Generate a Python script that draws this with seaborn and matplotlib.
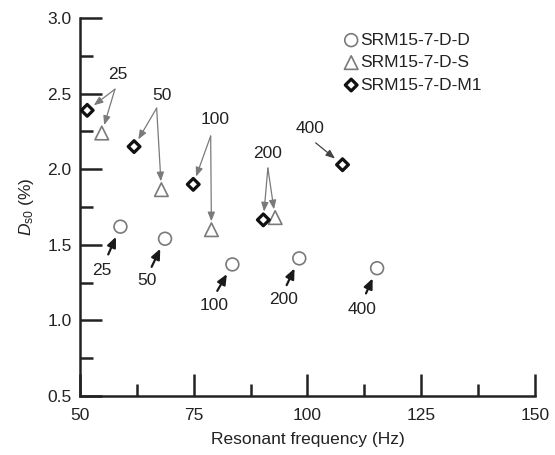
import numpy as np
import pandas as pd
import matplotlib
matplotlib.use("Agg")
import matplotlib.pyplot as plt
from matplotlib.ticker import MultipleLocator, FormatStrFormatter
import seaborn as sns

# Resonant frequency (Hz) and D_s0 (%) for each specimen series
labels_dd = [25, 50, 100, 200, 400]
freq_dd = [58.9, 68.7, 83.5, 98.2, 115.3]
ds0_dd = [1.62, 1.54, 1.37, 1.41, 1.345]

labels_ds = [25, 50, 100, 200]
freq_ds = [54.8, 67.9, 78.9, 92.9]
ds0_ds = [2.24, 1.865, 1.60, 1.68]

labels_m1 = [25, 50, 100, 200, 400]
freq_m1 = [51.6, 61.9, 74.9, 90.3, 107.7]
ds0_m1 = [2.39, 2.15, 1.90, 1.665, 2.03]

series_names = ["SRM15-7-D-D", "SRM15-7-D-S", "SRM15-7-D-M1"]

sns.set_theme(style="white")
plt.rcParams["font.family"] = ["Liberation Sans", "DejaVu Sans"]
plt.rcParams["mathtext.fontset"] = "custom"
plt.rcParams["mathtext.rm"] = "Liberation Sans"
plt.rcParams["mathtext.it"] = "Liberation Sans:italic"

ink = "#222222"

df = pd.concat([
    pd.DataFrame({"freq": freq_dd, "ds0": ds0_dd, "label": labels_dd, "series": series_names[0]}),
    pd.DataFrame({"freq": freq_ds, "ds0": ds0_ds, "label": labels_ds, "series": series_names[1]}),
    pd.DataFrame({"freq": freq_m1, "ds0": ds0_m1, "label": labels_m1, "series": series_names[2]}),
], ignore_index=True)

fig = plt.figure(figsize=(5.55, 4.55), dpi=100)
ax = fig.add_axes([0.144, 0.130, 0.820, 0.830])

styles = {
    series_names[0]: dict(marker="o", s=85, edgecolor="#7a7a7a", linewidth=1.2),
    series_names[1]: dict(marker="^", s=95, edgecolor="#7a7a7a", linewidth=1.2),
    series_names[2]: dict(marker="D", s=36, edgecolor="#111111", linewidth=2.3),
}
for name in series_names:
    sub = df[df["series"] == name]
    st = styles[name]
    sns.scatterplot(data=sub, x="freq", y="ds0", ax=ax, marker=st["marker"], s=st["s"],
                    facecolor="none", edgecolor=st["edgecolor"], linewidth=st["linewidth"],
                    label=name, zorder=3)

ax.set_xlim(50, 150)
ax.set_ylim(0.5, 3.0)
ax.xaxis.set_major_locator(MultipleLocator(25))
ax.xaxis.set_minor_locator(MultipleLocator(12.5))
ax.yaxis.set_major_locator(MultipleLocator(0.5))
ax.yaxis.set_minor_locator(MultipleLocator(0.25))
ax.xaxis.set_major_formatter(FormatStrFormatter("%d"))
ax.yaxis.set_major_formatter(FormatStrFormatter("%.1f"))

for side in ["top", "right"]:
    ax.spines[side].set_visible(False)
for side in ["left", "bottom"]:
    ax.spines[side].set_linewidth(1.8)
    ax.spines[side].set_color(ink)

ax.tick_params(which="both", direction="in", color=ink, width=1.8, labelsize=12.5,
               labelcolor=ink, bottom=True, left=True, top=False, right=False)
ax.tick_params(which="major", length=16)
ax.tick_params(which="minor", length=9)
ax.tick_params(axis="y", which="major", pad=6)
ax.tick_params(axis="x", which="major", pad=9)

ax.set_xlabel("Resonant frequency (Hz)", fontsize=12.5, color=ink, labelpad=6)
ax.set_ylabel(r"$D_{\mathrm{s0}}$ (%)", fontsize=12.5, color=ink, labelpad=8)

# Upper labels: thin grey arrows to the M1 and D-S points of the same frequency
upper = {
    25: ((58.35, 2.63), (57.7, 2.53)),
    50: ((67.96, 2.485), (66.86, 2.405)),
    100: ((79.67, 2.33), (78.73, 2.22)),
    200: ((91.3, 2.107), (91.3, 2.008)),
}
pts_m1 = dict(zip(labels_m1, zip(freq_m1, ds0_m1)))
pts_ds = dict(zip(labels_ds, zip(freq_ds, ds0_ds)))
pts_dd = dict(zip(labels_dd, zip(freq_dd, ds0_dd)))

grey_arrow = dict(arrowstyle="-|>,head_length=0.45,head_width=0.18", color="#7a7a7a",
                  lw=0.9, shrinkA=0, shrinkB=6)
for lab, (txt, tail) in upper.items():
    ax.text(*txt, str(lab), ha="center", va="center", fontsize=12.5, color=ink)
    for target in (pts_m1[lab], pts_ds[lab]):
        ax.annotate("", xy=target, xytext=tail, arrowprops=grey_arrow)

ax.text(100.5, 2.27, "400", ha="center", va="center", fontsize=12.5, color=ink)
ax.annotate("", xy=pts_m1[400], xytext=(101.8, 2.175),
            arrowprops=dict(arrowstyle="-|>,head_length=0.45,head_width=0.18",
                            color="#444444", lw=0.9, shrinkA=0, shrinkB=7))

# Lower labels: short dark arrows to the D-D points
lower = {
    25: ((54.77, 1.333), (56.22, 1.436)),
    50: ((64.66, 1.262), (65.76, 1.354)),
    100: ((79.52, 1.10), (80.18, 1.195)),
    200: ((94.68, 1.14), (95.43, 1.233)),
    400: ((111.9, 1.072), (112.86, 1.178)),
}
dark_arrow = dict(arrowstyle="-|>,head_length=0.5,head_width=0.22", color="#1a1a1a",
                  lw=1.6, shrinkA=0, shrinkB=8)
for lab, (txt, tail) in lower.items():
    ax.text(*txt, str(lab), ha="center", va="center", fontsize=12.5, color=ink)
    ax.annotate("", xy=pts_dd[lab], xytext=tail, arrowprops=dark_arrow)

leg = ax.legend(loc="upper left", bbox_to_anchor=(0.577, 0.962), frameon=False,
                fontsize=12.5, handletextpad=0.0, handlelength=1.0, labelspacing=0.42,
                borderaxespad=0, borderpad=0)
for t in leg.get_texts():
    t.set_color(ink)

fig.savefig("out.png", dpi=100)
